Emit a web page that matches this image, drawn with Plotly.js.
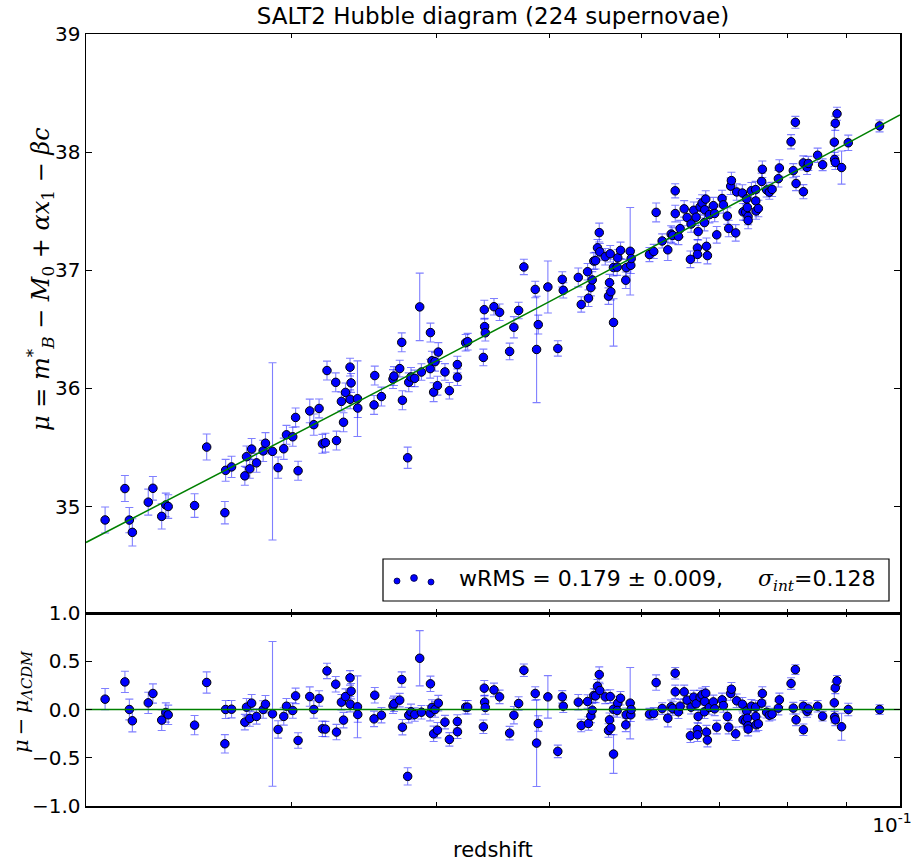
<!DOCTYPE html>
<html>
<head>
<meta charset="utf-8">
<script src="https://cdn.plot.ly/plotly-3.0.1.min.js"></script>
<style>
  html, body { margin: 0; padding: 0; background: #ffffff; }
  #chart { width: 915px; height: 861px; }
</style>
</head>
<body>
<div id="chart"></div>
<script>
// ---- Data ----
// redshift of each supernova
const zVals = [
  0.02077,0.02160,0.02179,0.02192,0.02262,0.02283,0.02323,0.02342,0.02353,0.02479,0.02539,0.02636,0.02632,
  0.02667,0.02738,0.02747,0.02765,0.02775,0.02802,0.02839,0.02852,0.02892,0.02924,0.02957,0.02973,0.03010,0.03027,0.03042,0.03113,0.03138,0.03171,0.03192,0.03211,0.03221,0.03277,0.03282,0.03314,0.03328,0.03341,0.03371,0.03378,0.03372,0.03421,0.03423,0.03540,0.03535,
  0.03587,0.03670,0.03677,0.03719,0.03734,0.03739,0.03778,0.03786,0.03803,0.03831,0.03869,0.03882,0.03952,0.03950,0.03964,0.03977,0.03988,0.04007,0.04014,0.04067,0.04103,0.04168,0.04169,0.04237,0.04254,0.04388,0.04396,0.04399,0.04405,0.04481,0.04531,0.04622,0.04661,0.04705,
  0.04754,0.04862,0.04875,0.04891,0.04985,0.05084,0.05129,0.05139,0.05294,0.05325,0.05392,0.05402,0.05427,0.05442,0.05459,0.05478,0.05499,0.05518,0.05524,0.05584,0.05620,0.05631,0.05639,0.05646,0.05676,0.05675,0.05724,0.05717,0.05755,0.05815,0.05820,0.05866,0.05873,0.05878,0.06094,0.06146,0.06175,0.06249,
  0.06319,0.06361,0.06381,0.06412,0.06413,0.06453,0.06475,0.06527,0.06565,0.06608,0.06617,0.06652,0.06683,0.06700,0.06701,0.06710,0.06736,0.06763,0.06798,0.06811,0.06794,0.06821,0.06834,0.06861,0.06915,0.06933,0.06961,0.07035,0.07053,0.07109,0.07128,0.07156,0.07166,0.07227,0.07241,0.07323,0.07333,0.07371,0.07386,0.07396,0.07406,0.07407,0.07455,0.07518,0.07519,0.07524,0.07558,0.07608,0.07618,0.07683,0.07724,0.07766,0.07863,0.07879,0.08063,0.08099,0.08132,0.08143,0.08261,0.08262,0.08322,
  0.08343,0.08498,0.08582,0.08783,0.08800,0.08830,0.08788,0.08801,0.08910,0.09029,0.09605
];
// Hubble residuals mu - mu_LCDM
const resVals = [
  0.107,0.286,0.0,-0.117,0.069,0.166,-0.11,-0.031,-0.055,-0.162,0.28,0.0,-0.355,
  0.003,-0.131,0.024,-0.093,0.066,-0.072,0.0,0.055,-0.045,-0.207,-0.072,0.034,-0.01,0.141,-0.321,0.134,0.0,0.114,-0.2,-0.203,0.4,0.262,-0.234,0.076,-0.11,0.134,0.328,0.19,0.055,0.028,-0.052,0.148,-0.097,
  -0.059,0.038,0.059,0.097,0.31,-0.183,-0.693,-0.059,-0.024,-0.052,0.531,-0.028,0.266,-0.038,0.021,-0.252,0.0,-0.214,0.066,-0.131,-0.31,-0.124,-0.231,0.024,0.024,-0.179,0.221,0.076,0.021,0.203,0.131,-0.245,-0.059,0.062,
  0.407,0.166,-0.348,-0.145,0.131,-0.434,0.131,0.034,0.076,-0.166,0.083,-0.145,-0.066,-0.007,0.145,0.141,0.241,0.362,0.197,0.131,-0.217,-0.107,0.134,-0.19,-0.462,0.003,0.066,-0.01,0.117,-0.159,-0.055,0.066,-0.055,0.0,-0.048,-0.041,0.279,0.01,
  -0.09,0.028,0.01,0.376,0.183,-0.024,0.034,0.183,0.097,-0.272,0.024,0.128,0.059,-0.207,-0.262,-0.072,0.128,0.152,0.083,0.169,-0.024,-0.234,-0.317,0.021,0.079,0.007,-0.183,0.1,0.041,-0.072,-0.183,0.166,0.21,-0.252,0.09,0.055,-0.107,-0.121,-0.014,-0.09,-0.169,-0.203,0.034,0.024,-0.072,-0.159,-0.148,0.066,0.166,-0.028,-0.059,-0.048,0.014,0.1,0.269,0.014,0.414,-0.107,0.034,-0.21,-0.021,
  0.007,0.034,-0.069,0.069,0.224,0.297,-0.079,-0.107,-0.179,0.0,0.0
];
// distance-modulus uncertainties
const errVals = [
  0.11,0.11,0.107,0.115,0.11,0.10,0.107,0.10,0.10,0.10,0.11,0.093,0.095,
  0.09,0.08,0.09,0.08,0.09,0.08,0.09,0.09,0.75,0.09,0.09,0.08,0.08,0.08,0.08,0.10,0.09,0.08,0.08,0.08,0.08,0.08,0.08,0.08,0.08,0.08,0.075,0.08,0.08,0.32,0.08,0.08,0.08,
  0.08,0.08,0.08,0.07,0.08,0.08,0.09,0.08,0.08,0.07,0.286,0.07,0.08,0.08,0.08,0.08,0.08,0.08,0.08,0.07,0.07,0.07,0.07,0.07,0.07,0.07,0.08,0.07,0.07,0.07,0.07,0.07,0.09,0.07,
  0.065,0.07,0.45,0.08,0.22,0.065,0.065,0.065,0.08,0.065,0.07,0.07,0.07,0.07,0.07,0.07,0.07,0.08,0.07,0.07,0.07,0.07,0.07,0.07,0.2,0.07,0.07,0.07,0.07,0.07,0.07,0.37,0.07,0.07,0.06,0.06,0.08,0.06,
  0.09,0.07,0.07,0.06,0.07,0.07,0.07,0.07,0.07,0.07,0.07,0.07,0.07,0.07,0.07,0.07,0.07,0.07,0.07,0.07,0.07,0.07,0.07,0.07,0.07,0.07,0.07,0.07,0.07,0.07,0.07,0.07,0.07,0.07,0.07,0.07,0.07,0.07,0.07,0.07,0.07,0.07,0.07,0.07,0.07,0.07,0.07,0.07,0.07,0.06,0.06,0.06,0.07,0.07,0.06,0.06,0.05,0.06,0.06,0.06,0.06,
  0.06,0.06,0.05,0.14,0.06,0.055,0.06,0.06,0.14,0.065,0.05
];
// LCDM model curve (green line)
const lineZ  = [0.02, 0.025, 0.03, 0.035, 0.04, 0.05, 0.06, 0.07, 0.08, 0.09, 0.1];
const lineMu = [34.697, 35.190, 35.594, 35.936, 36.234, 36.735, 37.146, 37.496, 37.801, 38.072, 38.315];
// tick positions / labels
const xMajorVals = [0.1];
const xMajorText = ['10<sup>-1</sup>'];
const xMinorVals = [0.02, 0.03, 0.04, 0.05, 0.06, 0.07, 0.08, 0.09];
const yTopTicks = [35, 36, 37, 38, 39];
const yBotTicks = [-1, -0.5, 0, 0.5, 1];
const yBotText  = ['\u22121.0', '\u22120.5', '0.0', '0.5', '1.0'];

// ---- model lookup (log-z interpolation along the drawn curve) ----
function modelMu(z) {
  const lz = Math.log10(z);
  for (let i = 0; i < lineZ.length - 1; i++) {
    const a = Math.log10(lineZ[i]), b = Math.log10(lineZ[i + 1]);
    if (lz <= b || i === lineZ.length - 2) {
      const t = (lz - a) / (b - a);
      return lineMu[i] + t * (lineMu[i + 1] - lineMu[i]);
    }
  }
}
const muVals = zVals.map((z, i) => modelMu(z) + resVals[i]);
const lineRes = lineZ.map((z, i) => lineMu[i] - modelMu(z));

const BLUE = '#0000ff';
const ERRC = 'rgba(0,0,255,0.5)';
const marker = { size: 8.5, color: BLUE, line: { color: '#000000', width: 1 } };
const errStyle = (arr) => ({ type: 'data', array: arr, visible: true, color: ERRC, thickness: 1.1, width: 4 });

const traces = [
  { x: zVals, y: muVals, xaxis: 'x2', yaxis: 'y', type: 'scatter', mode: 'markers',
    marker: marker, error_y: errStyle(errVals), showlegend: false, hoverinfo: 'skip' },
  { x: lineZ, y: lineMu, xaxis: 'x2', yaxis: 'y', type: 'scatter', mode: 'lines',
    line: { color: '#008000', width: 1.5 }, showlegend: false, hoverinfo: 'skip' },
  { x: zVals, y: resVals, xaxis: 'x', yaxis: 'y2', type: 'scatter', mode: 'markers',
    marker: marker, error_y: errStyle(errVals), showlegend: false, hoverinfo: 'skip' },
  { x: lineZ, y: lineRes, xaxis: 'x', yaxis: 'y2', type: 'scatter', mode: 'lines',
    line: { color: '#008000', width: 1.5 }, showlegend: false, hoverinfo: 'skip' }
];

const FONT = 'DejaVu Sans, sans-serif';
const tickFont = { family: FONT, size: 20, color: '#000000' };
const xBase = {
  type: 'log', range: [Math.log10(0.02), -0.99995],
  tickmode: 'array', tickvals: xMajorVals, ticktext: xMajorText,
  ticklabeloverflow: 'allow', ticklabelshift: -8,
  ticks: 'inside', ticklen: 8, tickwidth: 1, tickcolor: '#000000',
  minor: { tickmode: 'array', tickvals: xMinorVals, ticks: 'inside', ticklen: 4, tickwidth: 1, tickcolor: '#000000', showgrid: false },
  showline: true, linecolor: '#000000', linewidth: 1.5, mirror: 'allticks',
  showgrid: false, zeroline: false, tickfont: tickFont, fixedrange: true
};
const yBase = {
  ticks: 'inside', ticklen: 6, tickwidth: 1, tickcolor: '#000000',
  showline: true, linecolor: '#000000', linewidth: 1.5, mirror: 'allticks',
  showgrid: false, zeroline: false, tickfont: tickFont, fixedrange: true
};

// paper-coordinate helpers for the 86..900 x 34..806 plot box
const PX = (p) => (p - 86) / 814;
const PY = (p) => (806 - p) / 772;
const NB = '\u00a0';

const layout = {
  width: 915, height: 861,
  margin: { l: 86, r: 15, t: 34, b: 55, pad: 0 },
  paper_bgcolor: '#ffffff', plot_bgcolor: '#ffffff',
  font: { family: FONT, size: 20, color: '#000000' },
  showlegend: false,
  title: { text: 'SALT2 Hubble diagram (224 supernovae)', font: { family: FONT, size: 23, color: '#000000' },
           x: 0.5, xref: 'paper', xanchor: 'center', y: 1 - 16 / 861, yanchor: 'middle' },
  xaxis: Object.assign({}, xBase, { domain: [0, 1], anchor: 'y2' }),
  xaxis2: Object.assign({}, xBase, { domain: [0, 1], anchor: 'y', matches: 'x', showticklabels: false }),
  yaxis: Object.assign({}, yBase, { domain: [0.25, 1], anchor: 'x2', range: [34.1, 39],
           tickmode: 'array', tickvals: yTopTicks, ticktext: yTopTicks.map(String) }),
  yaxis2: Object.assign({}, yBase, { domain: [0, 0.25], anchor: 'x', range: [-1, 1],
           tickmode: 'array', tickvals: yBotTicks, ticktext: yBotText }),
  shapes: [
    { type: 'rect', xref: 'paper', yref: 'paper', x0: PX(383), x1: PX(889), y0: PY(601), y1: PY(559),
      line: { color: '#000000', width: 1.2 }, fillcolor: '#ffffff', layer: 'above' },
    { type: 'circle', xref: 'paper', yref: 'paper', xsizemode: 'pixel', ysizemode: 'pixel',
      xanchor: PX(397), yanchor: PY(581), x0: -3, x1: 3, y0: -3, y1: 3,
      fillcolor: BLUE, line: { color: '#000040', width: 0.8 }, layer: 'above' },
    { type: 'circle', xref: 'paper', yref: 'paper', xsizemode: 'pixel', ysizemode: 'pixel',
      xanchor: PX(414), yanchor: PY(578), x0: -3.4, x1: 3.4, y0: -3.4, y1: 3.4,
      fillcolor: BLUE, line: { color: '#000040', width: 0.8 }, layer: 'above' },
    { type: 'circle', xref: 'paper', yref: 'paper', xsizemode: 'pixel', ysizemode: 'pixel',
      xanchor: PX(431), yanchor: PY(582), x0: -3, x1: 3, y0: -3, y1: 3,
      fillcolor: BLUE, line: { color: '#000040', width: 0.8 }, layer: 'above' }
  ],
  annotations: [
    { xref: 'paper', yref: 'paper', x: PX(457), y: PY(580), xanchor: 'left', yanchor: 'middle',
      showarrow: false, font: { family: FONT, size: 22, color: '#000000' },
      text: 'wRMS = 0.179' + NB + '\u00b1' + NB + '0.009,' + NB + NB + NB + NB + NB +
            '<span style="font-family:DejaVu Serif"><i>σ</i><sub><i>int</i></sub></span>=0.128' },
    { xref: 'paper', yref: 'paper', x: PX(40), y: PY(279), xanchor: 'center', yanchor: 'middle',
      textangle: -90, showarrow: false, font: { family: 'DejaVu Serif, serif', size: 24, color: '#000000' },
      text: '<i>μ</i>' + NB + '=' + NB + '<i>m</i><sup>*</sup><sub><i>B</i></sub>' + NB + '−' + NB +
            '<i>M</i><sub>0</sub>' + NB + '+' + NB + '<i>αx</i><sub>1</sub>' + NB + '−' + NB + '<i>βc</i>' },
    { xref: 'paper', yref: 'paper', x: PX(22), y: PY(702), xanchor: 'center', yanchor: 'middle',
      textangle: -90, showarrow: false, font: { family: 'DejaVu Serif, serif', size: 21, color: '#000000' },
      text: '<i>μ</i>\u2009−\u2009<i>μ</i><sub><i>ΛCDM</i></sub>' },
    { xref: 'paper', yref: 'paper', x: 0.5, y: PY(850), xanchor: 'center', yanchor: 'middle',
      showarrow: false, font: { family: FONT, size: 21, color: '#000000' }, text: 'redshift' }
  ]
};

Plotly.newPlot('chart', traces, layout, { staticPlot: true, displayModeBar: false });
</script>
</body>
</html>
